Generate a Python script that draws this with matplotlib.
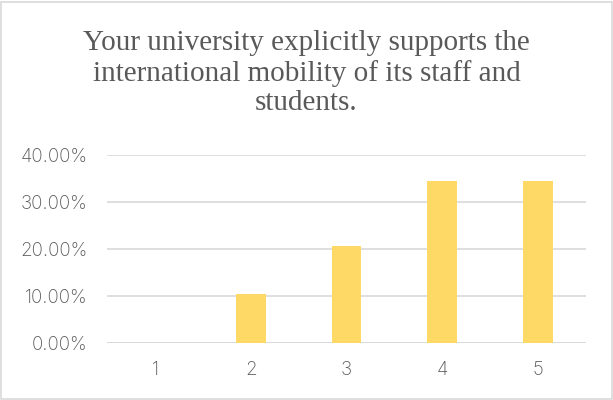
import matplotlib
matplotlib.use("Agg")
import matplotlib.pyplot as plt
from matplotlib.patches import Rectangle
from matplotlib.ticker import FuncFormatter

categories = ["1", "2", "3", "4", "5"]
values = [0.0, 0.1034, 0.2069, 0.3448, 0.3448]
y_ticks = [0.0, 0.1, 0.2, 0.3, 0.4]
title = "Your university explicitly supports the\ninternational mobility of its staff and\nstudents."

W, H = 613, 400
fig = plt.figure(figsize=(W / 100, H / 100), dpi=100)
fig.patch.set_facecolor("white")

# outer chart border
fig.add_artist(Rectangle((1.5 / W, 1.5 / H), (W - 3) / W, (H - 3) / H,
                         transform=fig.transFigure, fill=False,
                         edgecolor="#d9d9d9", linewidth=1.2))

left, right = 107 / W, 586 / W
bottom, top = 1 - 343 / H, 1 - 155 / H
ax = fig.add_axes([left, bottom, right - left, top - bottom])

x = list(range(len(categories)))
ax.bar(x, values, width=0.31, color="#ffd966", zorder=3)

ax.set_xlim(-0.5, len(categories) - 0.5)
ax.set_ylim(0, 0.4)
ax.set_yticks(y_ticks)
ax.yaxis.set_major_formatter(FuncFormatter(lambda v, p: f"{v*100:.2f}%"))
ax.set_xticks(x)
ax.set_xticklabels(categories)

ax.grid(axis="y", color="#d9d9d9", linewidth=1.2, zorder=0)
ax.set_axisbelow(True)
for s in ["top", "right", "left", "bottom"]:
    ax.spines[s].set_visible(False)
ax.axhline(0, color="#d9d9d9", linewidth=1.2, zorder=2)

ax.tick_params(axis="both", length=0, labelcolor="#595959", labelsize=13.5)
ax.tick_params(axis="y", pad=14)
ax.tick_params(axis="x", pad=13)
for lab in ax.get_xticklabels() + ax.get_yticklabels():
    lab.set_fontfamily("Inter")
    lab.set_fontweight("light")

fig.text(0.5, 1 - 73 / H, title, ha="center", va="center",
         fontsize=21, color="#595959", family="Liberation Serif",
         linespacing=1.15)

fig.savefig("out.png", dpi=100, facecolor="white")
